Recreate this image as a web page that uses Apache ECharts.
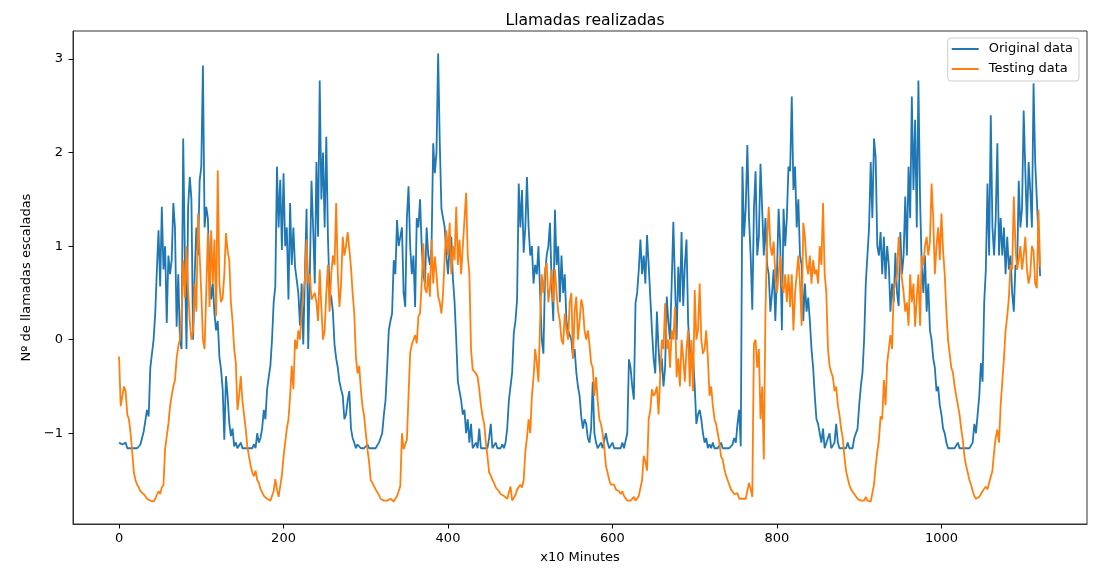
<!DOCTYPE html>
<html>
<head>
<meta charset="utf-8">
<title>Llamadas realizadas</title>
<style>
  html, body { margin: 0; padding: 0; background: #fff; }
  #main { width: 1094px; height: 569px; }
</style>
</head>
<body>
<div id="main"></div>
<script src="https://cdn.jsdelivr.net/npm/echarts@6/dist/echarts.min.js"></script>
<script>
// one sample every 2 time steps (x10 minutes)
var step = 2;

var originalData = [
  -1.10,-1.12,-1.12,-1.10,-1.10,-1.16,-1.16,-1.16,-1.16,-1.16,-1.16,-1.16,-1.16,-1.12,-1.05,-0.98,-0.96,-0.75,-0.82,-0.30,
  -0.28,0.00,0.28,0.75,1.17,0.57,1.42,0.75,1.00,0.18,0.90,0.70,0.85,1.46,1.20,0.14,0.70,0.00,-0.10,2.15,
  0.90,-0.10,1.42,1.74,1.50,0.00,0.70,1.20,0.90,1.70,1.85,2.93,1.20,1.42,1.30,0.71,0.43,0.60,0.28,0.10,
  0.20,-0.18,-0.32,-0.53,-1.07,-0.39,-0.60,-0.89,-1.03,-0.95,-1.14,-1.10,-1.16,-1.16,-1.10,-1.16,-1.16,-1.16,-1.16,-1.16,
  -1.16,-1.16,-1.12,-1.16,-1.00,-1.10,-1.05,-0.95,-0.75,-0.85,-0.53,-0.40,-0.28,0.00,0.40,0.57,1.85,1.20,1.71,0.96,
  1.78,1.00,1.20,0.43,1.46,0.80,1.20,0.78,0.80,0.50,0.15,0.60,-0.05,0.70,1.40,-0.10,0.70,1.70,1.20,0.60,
  1.90,1.10,2.77,1.50,2.00,1.20,2.17,1.10,0.50,0.46,0.30,-0.05,-0.20,-0.30,-0.45,-0.53,-0.60,-0.85,-0.80,-0.65,
  -0.55,-0.95,-1.05,-1.10,-1.16,-1.12,-1.10,-1.16,-1.16,-1.16,-1.16,-1.12,-1.16,-1.16,-1.16,-1.16,-1.16,-1.16,-1.10,-1.05,
  -1.00,-0.80,-0.65,-0.30,0.10,0.20,0.28,0.85,0.70,1.28,1.00,1.00,1.20,0.50,0.35,1.30,1.64,1.00,0.70,0.90,
  0.35,1.30,1.20,1.50,1.00,0.70,0.60,1.20,0.90,0.80,1.00,2.10,1.78,2.00,3.06,2.10,1.40,1.30,1.20,0.90,
  0.70,1.00,1.10,0.65,0.40,0.00,-0.45,-0.55,-0.65,-0.80,-0.75,-1.00,-0.85,-1.10,-0.90,-1.16,-1.16,-1.10,-1.16,-0.95,
  -1.16,-1.16,-1.16,-1.16,-1.16,-1.05,-0.90,-1.16,-1.16,-1.10,-1.16,-1.16,-1.16,-1.12,-1.16,-1.10,-0.95,-0.65,-0.50,-0.35,
  0.07,0.20,0.43,1.67,1.20,1.60,0.93,1.20,1.74,1.20,0.90,1.00,0.60,0.80,0.70,1.00,0.50,0.00,-0.15,0.70,
  0.90,1.00,1.25,0.60,0.20,1.39,0.80,1.00,0.40,0.90,0.50,0.70,0.20,0.10,0.05,0.00,-0.20,-0.10,-0.35,-0.50,
  -0.60,-0.82,-0.95,-0.85,-0.90,-1.05,-1.10,-0.95,-0.45,-1.00,-1.10,-1.16,-1.16,-1.10,-1.16,-1.16,-1.00,-1.10,-1.16,-1.16,
  -1.10,-1.16,-1.16,-1.16,-1.16,-1.16,-1.10,-1.16,-1.16,-1.00,-0.21,-0.30,-0.50,-0.64,0.39,0.50,0.75,1.07,0.70,0.90,
  0.60,1.12,0.80,0.45,0.10,-0.20,-0.36,0.30,-0.10,-0.36,-0.20,-0.50,-0.30,0.46,0.18,0.00,0.60,1.26,0.60,0.00,
  0.78,0.40,1.15,0.36,0.80,1.07,0.18,-0.10,-0.30,-0.18,-0.50,-0.90,-0.80,-0.75,-0.85,-1.00,-1.10,-1.05,-1.16,-1.12,
  -1.16,-1.10,-1.16,-1.16,-1.16,-1.16,-1.10,-1.16,-1.16,-1.16,-1.16,-1.16,-1.16,-1.12,-1.05,-1.10,-0.90,-0.75,-1.14,1.85,
  1.10,1.40,2.08,1.30,0.90,0.32,1.40,1.80,0.90,1.10,1.88,1.40,0.90,1.30,0.80,0.70,0.30,0.50,0.75,0.20,
  0.70,1.40,1.00,0.10,1.40,1.00,1.30,1.85,1.80,2.60,1.60,1.85,1.20,1.50,0.90,0.80,0.20,0.60,0.30,0.45,
  0.20,-0.10,-0.30,-0.60,-0.85,-0.90,-1.00,-1.10,-0.95,-1.16,-1.16,-1.05,-1.00,-1.16,-1.16,-1.10,-0.90,-1.10,-1.16,-1.16,
  -1.16,-1.16,-1.16,-1.10,-1.16,-1.16,-1.16,-1.05,-1.05,-0.95,-0.70,-0.50,-0.35,0.00,0.60,0.90,1.20,1.90,1.30,2.15,
  1.95,1.00,0.90,1.15,0.70,1.10,0.65,1.00,0.80,0.30,0.60,0.40,0.93,0.50,0.36,1.15,0.70,0.90,1.53,0.90,
  1.85,1.30,2.60,1.60,2.35,1.20,2.77,1.50,0.80,0.50,0.90,0.30,0.60,0.10,0.00,-0.20,-0.30,-0.55,-0.50,-0.70,
  -0.80,-0.95,-1.00,-1.10,-1.16,-1.16,-1.16,-1.16,-1.16,-1.16,-1.10,-1.16,-1.16,-1.16,-1.16,-1.16,-1.16,-1.16,-1.16,-1.10,
  -0.90,-1.00,-0.80,-0.60,-0.25,-0.45,0.40,0.75,1.67,0.90,2.40,1.20,0.90,1.30,2.10,0.90,1.30,0.90,1.20,0.70,
  1.10,0.75,0.90,0.50,0.30,0.80,0.75,1.70,1.20,1.40,2.45,1.80,1.20,1.90,1.60,1.20,2.74,1.90,1.50,1.10,
  0.68
];

var testingData = [
  -0.18,-0.71,-0.72,-0.50,-0.55,-0.80,-0.85,-1.00,-1.20,-1.42,-1.50,-1.55,-1.58,-1.62,-1.60,-1.65,-1.66,-1.70,-1.72,-1.72,
  -1.72,-1.73,-1.70,-1.66,-1.62,-1.65,-1.58,-1.55,-1.17,-1.03,-0.90,-0.71,-0.60,-0.50,-0.43,-0.20,-0.07,0.00,0.28,0.85,
  0.45,1.00,0.53,0.20,0.00,0.10,0.60,0.30,1.35,0.90,0.50,0.00,-0.10,0.50,1.14,0.35,1.17,0.60,1.07,0.25,
  1.81,0.60,0.40,0.45,0.70,1.14,0.95,0.85,0.40,0.20,-0.10,-0.25,-0.75,-0.60,-0.39,-0.65,-0.80,-0.95,-1.14,-1.25,
  -1.35,-1.42,-1.46,-1.40,-1.50,-1.53,-1.60,-1.63,-1.67,-1.65,-1.70,-1.70,-1.72,-1.70,-1.62,-1.49,-1.60,-1.68,-1.67,-1.45,
  -1.25,-1.10,-0.95,-0.85,-0.60,-0.28,-0.53,0.00,-0.10,0.10,0.00,0.28,0.50,0.64,1.07,0.60,0.70,0.43,0.45,0.50,
  0.40,0.20,0.75,0.35,0.00,0.10,0.50,0.80,0.30,0.70,0.90,0.80,1.46,0.70,0.35,0.60,1.10,0.90,1.00,1.15,
  1.17,0.78,0.50,0.28,-0.18,-0.36,-0.28,-0.53,-0.71,-0.82,-0.80,-1.17,-1.30,-1.50,-1.53,-1.53,-1.60,-1.62,-1.66,-1.70,
  -1.70,-1.72,-1.73,-1.72,-1.74,-1.70,-1.72,-1.73,-1.70,-1.67,-1.62,-1.56,-1.00,-1.17,-1.15,-1.07,-0.60,-0.14,-0.05,0.00,
  0.05,-0.04,0.25,0.28,0.60,1.03,0.55,0.50,0.71,0.46,1.07,0.60,0.89,0.70,0.46,0.40,0.28,0.50,0.89,1.17,
  0.90,1.25,0.70,1.00,0.85,1.42,0.80,1.07,0.70,1.00,1.28,1.57,0.90,0.70,-0.10,-0.32,-0.30,-0.36,-0.40,-0.53,
  -0.70,-0.82,-0.90,-1.10,-1.25,-1.42,-1.45,-1.50,-1.53,-1.58,-1.60,-1.62,-1.65,-1.63,-1.67,-1.67,-1.70,-1.70,-1.57,-1.72,
  -1.72,-1.66,-1.60,-1.62,-1.55,-1.58,-1.50,-1.20,-1.05,-0.85,-1.00,-0.60,-0.40,-0.10,-0.25,-0.45,0.20,0.70,0.50,0.75,
  0.82,0.40,0.55,0.75,0.40,0.75,0.50,0.30,0.20,0.00,-0.05,0.28,0.10,0.00,0.40,0.50,-0.20,0.30,0.46,0.00,
  0.20,0.43,0.35,0.10,0.00,0.10,-0.05,-0.25,-0.30,-0.60,-0.40,-0.65,-0.85,-0.90,-1.00,-1.15,-1.35,-1.42,-1.50,-1.55,
  -1.57,-1.55,-1.60,-1.58,-1.62,-1.65,-1.62,-1.67,-1.68,-1.72,-1.70,-1.72,-1.70,-1.68,-1.72,-1.70,-1.67,-1.69,-1.50,-1.24,
  -1.30,-1.40,-0.85,-0.75,-0.53,-0.60,-0.57,-0.50,-0.80,-0.40,0.00,-0.10,0.39,-0.10,0.00,-0.30,0.10,0.00,0.35,-0.40,
  -0.20,-0.50,0.00,-0.20,-0.45,-0.10,0.10,-0.50,0.00,-0.55,0.53,0.00,0.10,0.60,0.00,-0.15,-0.10,0.10,-0.20,-0.60,
  -0.50,-0.70,-0.85,-0.90,-1.00,-1.10,-1.25,-1.28,-1.38,-1.45,-1.50,-1.55,-1.60,-1.62,-1.65,-1.67,-1.64,-1.70,-1.72,-1.70,
  -1.72,-1.70,-1.72,-1.53,-1.60,-1.68,-0.04,0.00,-0.30,-0.10,-0.85,-0.50,-1.28,0.30,1.07,1.42,1.00,0.90,1.05,0.70,
  0.50,0.70,0.90,0.60,0.50,0.70,0.40,0.70,0.35,0.70,0.10,0.50,0.70,0.90,0.60,0.15,1.25,1.10,0.80,0.70,
  0.90,0.60,0.85,0.70,0.75,0.60,1.00,0.80,1.46,0.70,0.50,-0.10,-0.28,-0.35,-0.40,-0.55,-0.50,-0.70,-0.80,-0.95,
  -1.05,-1.25,-1.40,-1.48,-1.55,-1.60,-1.62,-1.65,-1.67,-1.70,-1.70,-1.72,-1.70,-1.72,-1.68,-1.72,-1.70,-1.73,-1.72,-1.55,
  -1.35,-1.20,-1.07,-0.82,-0.85,-0.43,-0.70,-0.25,-0.10,0.05,-0.10,0.53,0.60,0.70,1.10,0.80,0.65,0.50,0.30,0.40,
  0.15,0.70,0.40,0.60,0.14,0.45,0.70,0.15,0.90,0.80,1.00,1.10,0.90,1.05,1.67,1.30,0.70,1.00,1.20,0.85,
  1.35,0.95,0.70,0.30,0.00,-0.15,-0.30,-0.35,-0.50,-0.60,-0.70,-0.80,-0.95,-1.07,-1.25,-1.35,-1.42,-1.50,-1.55,-1.62,
  -1.67,-1.70,-1.72,-1.68,-1.65,-1.62,-1.64,-1.57,-1.60,-1.53,-1.55,-1.40,-1.20,-1.05,-0.96,-1.10,-0.70,-0.45,-0.20,0.10,
  0.25,0.45,0.80,0.75,1.53,1.00,0.75,0.85,1.00,0.75,0.90,1.10,0.75,0.60,0.70,1.00,0.95,0.60,0.55,1.39,
  0.78
];

var xTicks = [0, 200, 400, 600, 800, 1000];
var yTicks = [-1, 0, 1, 2, 3];

function toPoints(arr) {
  return arr.map(function (v, i) { return [i * step, v]; });
}
function fmt(v) {
  return v < 0 ? '\u2212' + Math.abs(v) : String(v);
}

var font = 'DejaVu Sans';
var myChart = echarts.init(document.getElementById('main'), null, { renderer: 'canvas' });

var option = {
  animation: false,
  backgroundColor: '#fff',
  textStyle: { fontFamily: font },
  title: {
    text: 'Llamadas realizadas',
    left: 580,
    textAlign: 'center',
    top: 8,
    textStyle: { fontFamily: font, fontSize: 15.6, fontWeight: 'normal', color: '#000' }
  },
  legend: {
    orient: 'vertical',
    right: 15,
    top: 38,
    padding: [4, 6, 5, 4],
    itemGap: 6,
    itemWidth: 27,
    itemHeight: 2,
    icon: 'rect',
    backgroundColor: 'rgba(255,255,255,0.8)',
    borderColor: '#ccc',
    borderWidth: 1,
    borderRadius: 3,
    textStyle: { fontFamily: font, fontSize: 13, color: '#000', padding: [0, 0, 0, 5], lineHeight: 14 },
    data: ['Original data', 'Testing data']
  },
  grid: {
    left: 73, right: 7, top: 31, bottom: 44,
    show: true, borderColor: '#333', borderWidth: 1, backgroundColor: 'transparent'
  },
  xAxis: {
    type: 'value',
    min: -56,
    max: 1177,
    name: 'x10 Minutes',
    nameLocation: 'middle',
    nameGap: 27,
    nameTextStyle: { fontFamily: font, fontSize: 13, color: '#000' },
    axisLine: { show: true, onZero: false, lineStyle: { color: '#333', width: 1 } },
    axisTick: { show: true, length: 4.5, lineStyle: { color: '#000' }, customValues: xTicks },
    axisLabel: { margin: 8, fontFamily: font, fontSize: 13, color: '#000', customValues: xTicks, formatter: fmt },
    splitLine: { show: false }
  },
  yAxis: {
    type: 'value',
    min: -1.97,
    max: 3.30,
    name: 'N\u00ba de llamadas escaladas',
    nameLocation: 'middle',
    nameGap: 36,
    nameRotate: 90,
    nameTextStyle: { fontFamily: font, fontSize: 13, color: '#000' },
    axisLine: { show: true, onZero: false, lineStyle: { color: '#333', width: 1 } },
    axisTick: { show: true, length: 4.5, lineStyle: { color: '#000' }, customValues: yTicks },
    axisLabel: { margin: 10, fontFamily: font, fontSize: 13, color: '#000', customValues: yTicks, formatter: fmt },
    splitLine: { show: false }
  },
  series: [
    {
      name: 'Original data',
      type: 'line',
      data: toPoints(originalData),
      showSymbol: false,
      symbol: 'none',
      color: '#1f77b4',
      lineStyle: { color: '#1f77b4', width: 1.8 }
    },
    {
      name: 'Testing data',
      type: 'line',
      data: toPoints(testingData),
      showSymbol: false,
      symbol: 'none',
      color: '#ff7f0e',
      lineStyle: { color: '#ff7f0e', width: 1.8 }
    }
  ]
};

myChart.setOption(option);
</script>
</body>
</html>
